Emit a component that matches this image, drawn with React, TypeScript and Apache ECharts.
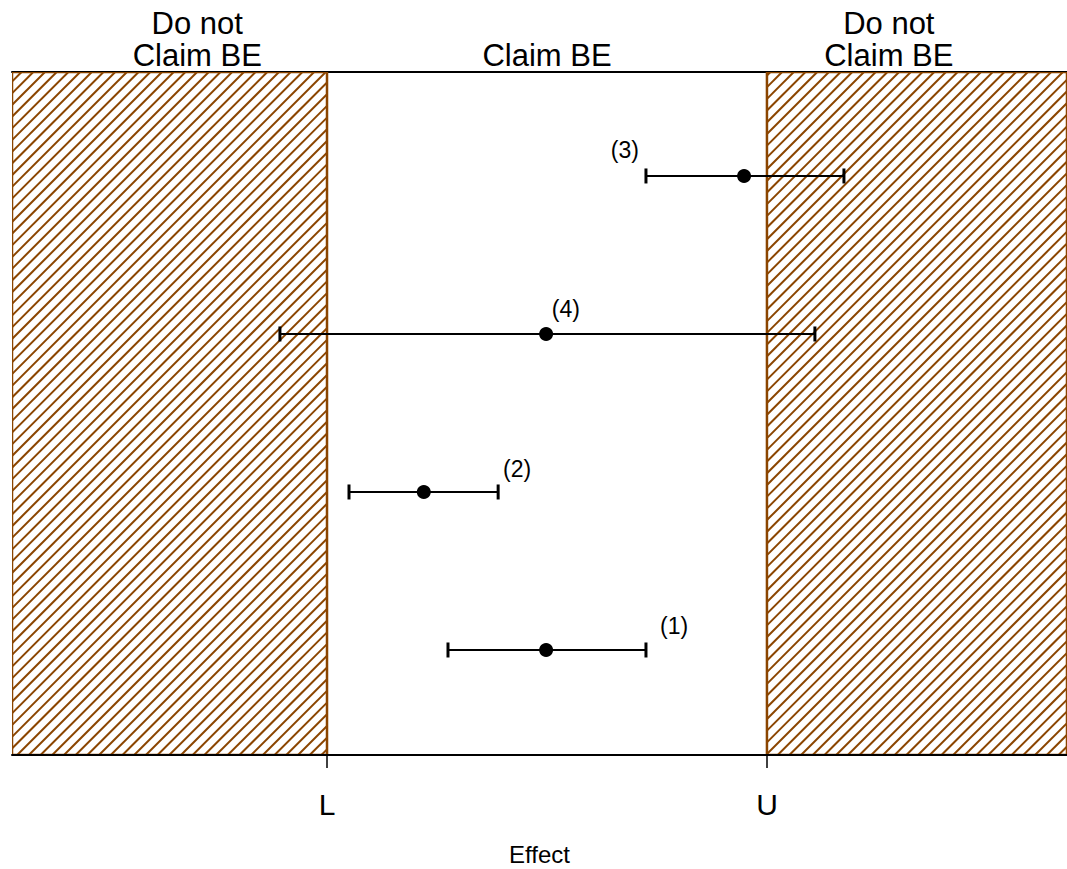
import React, { useEffect, useRef } from "react";
import * as echarts from "echarts";

// ---- data ----
const intervalLabels = ["(1)", "(2)", "(3)", "(4)"];
const rowPos = [1, 2, 4, 3];
const estimates = [0.498, 0.22, 0.948, 0.498];
const lowerCI = [0.275, 0.05, 0.725, -0.107];
const upperCI = [0.725, 0.389, 1.175, 1.109];
const labelX = [0.789, 0.432, 0.677, 0.543];
const labelY = [1.152, 2.146, 4.165, 3.158];

const L = 0;
const U = 1;
const xMin = -0.716;
const xMax = 1.682;
const yMin = 0.3354;
const yMax = 4.658;

const bottomTickValues = [L, U];
const bottomTickLabels = ["L", "U"];
const topLabelValues = [-0.295, 0.5, 1.277];
const topLabelTexts = ["Do not\nClaim BE", "Claim BE", "Do not\nClaim BE"];

const regions = [
  [xMin, L],
  [U, xMax],
];

const FONT = "'Liberation Sans', Arial, Helvetica, sans-serif";
const BROWN = "#8B4500";

export default function App() {
  const ref = useRef<HTMLDivElement>(null);
  useEffect(() => {
    if (!ref.current) return;
    const chart = echarts.init(ref.current, null, { renderer: "svg" });
    const option: any = {
      animation: false,
      backgroundColor: "#ffffff",
      textStyle: { fontFamily: FONT },
      grid: {
        left: 12,
        right: 0,
        top: 72,
        bottom: 114,
        containLabel: false,
        outerBoundsMode: "none",
      },
      xAxis: [
        {
          type: "value",
          position: "bottom",
          min: xMin,
          max: xMax,
          z: 10,
          splitLine: { show: false },
          axisLine: { show: true, onZero: false, lineStyle: { color: "#000", width: 2 } },
          axisTick: {
            show: true,
            customValues: bottomTickValues,
            length: 13,
            lineStyle: { color: "#000", width: 1.5 },
          },
          axisLabel: {
            show: true,
            customValues: bottomTickValues,
            formatter: (v: number) => {
              const i = bottomTickValues.findIndex((t) => Math.abs(t - v) < 1e-6);
              return i >= 0 ? bottomTickLabels[i] : "";
            },
            fontSize: 30,
            color: "#000",
            margin: 34,
            fontFamily: FONT,
          },
          name: "Effect",
          nameLocation: "middle",
          nameGap: 87,
          nameTextStyle: { fontSize: 24, lineHeight: 24, color: "#000", fontFamily: FONT },
        },
        {
          type: "value",
          position: "top",
          min: xMin,
          max: xMax,
          z: 0,
          splitLine: { show: false },
          axisLine: { show: true, onZero: false, lineStyle: { color: "#000", width: 2 } },
          axisTick: { show: false },
          axisLabel: {
            show: true,
            customValues: topLabelValues,
            formatter: (v: number) => {
              const i = topLabelValues.findIndex((t) => Math.abs(t - v) < 1e-6);
              return i >= 0 ? topLabelTexts[i] : "";
            },
            fontSize: 31,
            lineHeight: 32,
            color: "#000",
            margin: 1,
            fontFamily: FONT,
          },
        },
      ],
      yAxis: { type: "value", min: yMin, max: yMax, show: false },
      series: [
        {
          type: "custom",
          z: 2,
          clip: true,
          data: regions,
          renderItem: (params: any, api: any) => {
            const x0 = api.value(0);
            const x1 = api.value(1);
            const p0 = api.coord([x0, yMax]);
            const p1 = api.coord([x1, yMin]);
            const cs = params.coordSys;
            const left = Math.max(p0[0], cs.x);
            const right = Math.min(p1[0], cs.x + cs.width);
            const top = p0[1];
            const bottom = p1[1];
            const s = 11.7;
            const children: any[] = [];
            const cStart = Math.ceil((left + top) / s) * s;
            for (let c = cStart; c <= right + bottom; c += s) {
              const xa = Math.max(left, c - bottom);
              const xb = Math.min(right, c - top);
              if (xb > xa) {
                children.push({
                  type: "line",
                  shape: { x1: xa, y1: c - xa, x2: xb, y2: c - xb },
                  style: { stroke: BROWN, lineWidth: 2 },
                });
              }
            }
            children.push({
              type: "rect",
              shape: { x: p0[0], y: top, width: p1[0] - p0[0], height: bottom - top },
              style: { fill: "none", stroke: BROWN, lineWidth: 2.5 },
            });
            return { type: "group", children };
          },
        },
        {
          type: "custom",
          z: 3,
          data: rowPos.map((y, i) => [lowerCI[i], upperCI[i], y]),
          renderItem: (params: any, api: any) => {
            const a = api.coord([api.value(0), api.value(2)]);
            const b = api.coord([api.value(1), api.value(2)]);
            const h = 7.5;
            return {
              type: "group",
              children: [
                {
                  type: "line",
                  shape: { x1: a[0], y1: a[1], x2: b[0], y2: b[1] },
                  style: { stroke: "#000", lineWidth: 2 },
                },
                {
                  type: "line",
                  shape: { x1: a[0], y1: a[1] - h, x2: a[0], y2: a[1] + h },
                  style: { stroke: "#000", lineWidth: 3 },
                },
                {
                  type: "line",
                  shape: { x1: b[0], y1: b[1] - h, x2: b[0], y2: b[1] + h },
                  style: { stroke: "#000", lineWidth: 3 },
                },
              ],
            };
          },
        },
        {
          type: "scatter",
          z: 4,
          symbol: "circle",
          symbolSize: 14,
          itemStyle: { color: "#000", opacity: 1 },
          data: rowPos.map((y, i) => [estimates[i], y]),
        },
        {
          type: "scatter",
          z: 4,
          symbolSize: 1,
          itemStyle: { color: "rgba(0,0,0,0)", opacity: 1 },
          data: intervalLabels.map((t, i) => ({ value: [labelX[i], labelY[i]], name: t })),
          label: {
            show: true,
            position: "inside",
            formatter: (p: any) => p.name,
            fontSize: 23,
            color: "#000",
            opacity: 1,
            fontFamily: FONT,
          },
        },
      ],
    };
    chart.setOption(option);
    return () => chart.dispose();
  }, []);
  return (
    <div
      ref={ref}
      style={{ position: "absolute", left: 0, top: 0, width: 1067, height: 869 }}
    />
  );
}
